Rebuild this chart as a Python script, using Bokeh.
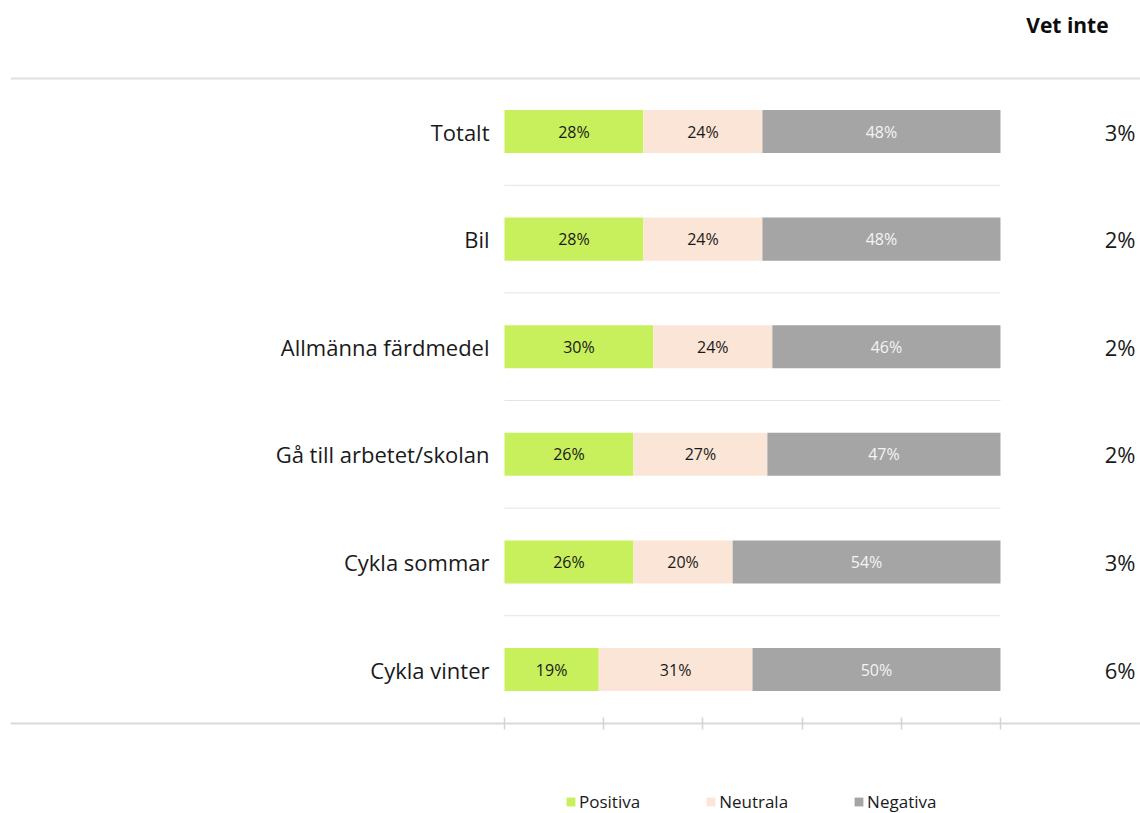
from bokeh.plotting import figure
from bokeh.models import ColumnDataSource, Span, Range1d, FixedTicker, CustomLabelingPolicy
from bokeh.core.properties import value
from bokeh.embed import file_html
from bokeh.resources import INLINE

categories = ["Totalt", "Bil", "Allmänna färdmedel", "Gå till arbetet/skolan",
              "Cykla sommar", "Cykla vinter"]
positiva = [28, 28, 30, 26, 26, 19]
neutrala = [24, 24, 24, 27, 20, 31]
negativa = [48, 48, 46, 47, 54, 50]
vet_inte = [3, 2, 2, 2, 3, 6]
series_names = ["Positiva", "Neutrala", "Negativa"]
x_ticks = [0, 20, 40, 60, 80, 100]

COLORS = ["#c8ef5c", "#fbe5d6", "#a5a5a5"]
LABEL_COLORS = ["#1a1a1a", "#1a1a1a", "#f4f4f4"]
FONT = "Open Sans"

n = len(categories)
ys = [n - i for i in range(n)]

src = ColumnDataSource(dict(y=ys, cat=categories, Positiva=positiva,
                            Neutrala=neutrala, Negativa=negativa))

p = figure(frame_width=1130, frame_height=807,
           min_border_left=10, min_border_right=0, min_border_top=6, min_border_bottom=0,
           x_range=Range1d(-99.6, 128.23), y_range=Range1d(-0.338, 7.1617),
           output_backend="svg", toolbar_location=None,
           x_axis_location="above", y_axis_location=None)
p.outline_line_color = None
p.xgrid.visible = False
p.ygrid.visible = False
p.background_fill_color = "white"
p.border_fill_color = "white"

# header line
p.add_layout(Span(location=6.493, dimension="width", line_color="#e0e0e0", line_width=2))

# separators between rows
sep_y = [ys[i] - 0.5 for i in range(n - 1)]
p.segment(x0=[x_ticks[0]] * len(sep_y), x1=[x_ticks[-1]] * len(sep_y), y0=sep_y, y1=sep_y,
          line_color="#e3e3e3", line_width=1)

# stacked bars
p.hbar_stack(series_names, y="y", height=0.4, color=COLORS, line_color=None,
             source=src, legend_label=series_names)

# bar labels
cum = [0] * n
for vals, lc in zip([positiva, neutrala, negativa], LABEL_COLORS):
    centers = [c + v / 2 for c, v in zip(cum, vals)]
    cum = [c + v for c, v in zip(cum, vals)]
    p.text(x=centers, y=ys, text=[f"{v}%" for v in vals], text_align="center",
           text_baseline="middle", text_font=value(FONT), text_font_size="16px",
           text_color=lc)

# category labels
p.text(x=[0] * n, y=ys, text=categories, x_offset=-15, text_align="right",
       text_baseline="middle", text_font=value(FONT), text_font_size="22px",
       text_color="#1a1a1a")

# Vet inte values
p.text(x=[127.2] * n, y=ys, text=[f"{v}%" for v in vet_inte], text_align="right",
       text_baseline="middle", text_font=value(FONT), text_font_size="22px",
       text_color="#1a1a1a")

# Vet inte header
p.text(x=[113.5], y=[6.994], text=["Vet inte"], text_align="center",
       text_baseline="middle", text_font=value(FONT), text_font_size="21px",
       text_font_style="bold", text_color="#0d0d0d")

# x axis (ticks only, drawn at the bottom of the rows)
ax = p.xaxis[0]
ax.fixed_location = 0.498
ax.ticker = FixedTicker(ticks=x_ticks)
ax.major_label_policy = CustomLabelingPolicy(
    code="for (const i of indices) { indices.unset(i) } return indices")
ax.major_label_standoff = 0
ax.axis_line_color = "#d9d9d9"
ax.axis_line_width = 2
ax.major_tick_line_color = "#d4d4d4"
ax.major_tick_line_width = 1.5
ax.major_tick_in = 6
ax.major_tick_out = 6
ax.minor_tick_line_color = None

# legend
lg = p.legend[0]
lg.location = (555, 0)
lg.orientation = "horizontal"
lg.border_line_color = None
lg.background_fill_alpha = 0
lg.padding = 0
lg.margin = 0
lg.spacing = 65
lg.label_standoff = 3
lg.glyph_width = 11
lg.glyph_height = 11
lg.label_height = 15
lg.label_text_font = FONT
lg.label_text_font_size = "17px"
lg.label_text_color = "#1a1a1a"

open("out.html", "w").write(file_html(p, INLINE))
